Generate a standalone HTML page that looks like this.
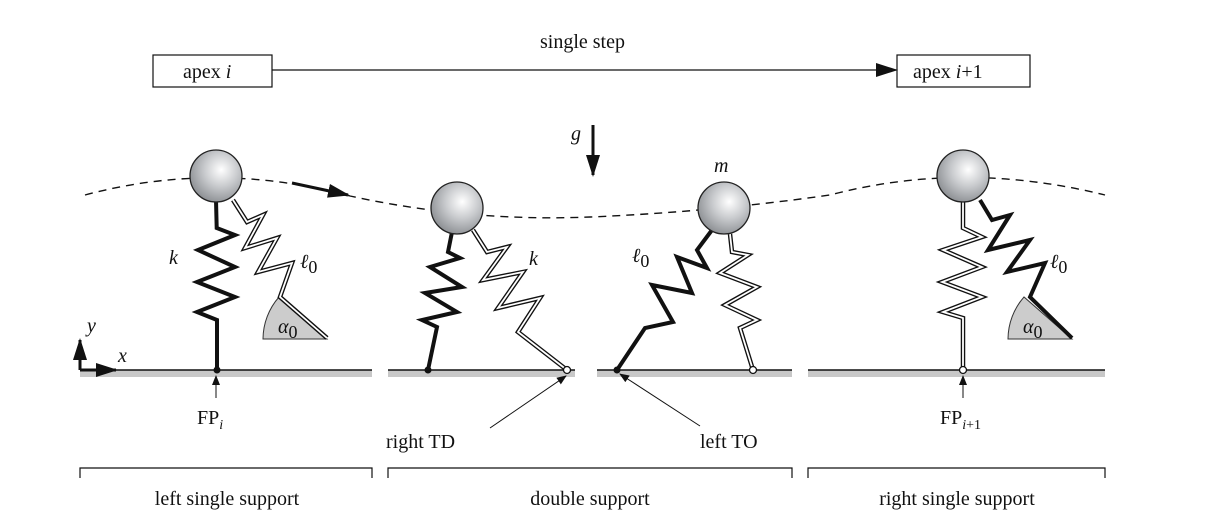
<!DOCTYPE html><html><head><style>body{margin:0;background:#fff}svg{display:block}text{font-family:"Liberation Serif",serif;font-size:20px;fill:#111}</style></head><body>
<svg width="1207" height="529" viewBox="0 0 1207 529">
<defs>
<radialGradient id="b" cx="0.6" cy="0.38" r="0.65"><stop offset="0" stop-color="#fff"/><stop offset="0.5" stop-color="#c8cacd"/><stop offset="1" stop-color="#8d9094"/></radialGradient>
<marker id="ah" markerWidth="10" markerHeight="8" refX="9" refY="4" orient="auto" markerUnits="userSpaceOnUse"><path d="M0,0 L10,4 L0,8 Z" fill="#111"/></marker>
<marker id="ahb" markerWidth="22" markerHeight="14" refX="20" refY="7" orient="auto" markerUnits="userSpaceOnUse"><path d="M0,0 L22,7 L0,14 Z" fill="#111"/></marker>
</defs>
<rect x="153" y="55" width="119" height="32" fill="#fff" stroke="#111" stroke-width="1.2"/>
<text x="183" y="78">apex <tspan font-style="italic">i</tspan></text>
<rect x="897" y="55" width="133" height="32" fill="#fff" stroke="#111" stroke-width="1.2"/>
<text x="913" y="78">apex <tspan font-style="italic">i</tspan>+1</text>
<line x1="272" y1="70" x2="896" y2="70" stroke="#111" stroke-width="1.2" marker-end="url(#ahb)"/>
<text x="540" y="48">single step</text>
<line x1="593" y1="125" x2="593" y2="175" stroke="#111" stroke-width="3" marker-end="url(#ahb)"/>
<text x="571" y="140" font-style="italic">g</text>
<path d="M85,195 Q216,160 350,196 Q470,222 590,217 Q710,212 830,195 Q963,160 1105,195" fill="none" stroke="#111" stroke-width="1.4" stroke-dasharray="8,6"/>
<line x1="292" y1="183" x2="348" y2="195" stroke="#111" stroke-width="3" marker-end="url(#ahb)"/>
<g fill="#c8c8c8"><rect x="80" y="370" width="292" height="7"/><rect x="388" y="370" width="187" height="7"/><rect x="597" y="370" width="195" height="7"/><rect x="808" y="370" width="297" height="7"/></g>
<g stroke="#111" stroke-width="1.5"><line x1="80" y1="370" x2="372" y2="370"/><line x1="388" y1="370" x2="575" y2="370"/><line x1="597" y1="370" x2="792" y2="370"/><line x1="808" y1="370" x2="1105" y2="370"/></g>
<path d="M327,339 L263,339 A64,64 0 0 1 279,297 Z" fill="#ccc" stroke="#333" stroke-width="1"/>
<path d="M1072,339 L1008,339 A64,64 0 0 1 1024,297 Z" fill="#ccc" stroke="#333" stroke-width="1"/>
<text x="278" y="333" font-style="italic" font-size="25">α<tspan font-size="18" font-style="normal" dy="5">0</tspan></text>
<text x="1023" y="333" font-style="italic" font-size="25">α<tspan font-size="18" font-style="normal" dy="5">0</tspan></text>
<g fill="none" stroke="#111" stroke-width="4" stroke-linejoin="miter">
<path d="M216,200 L216.7,228 L235,235 L198,250 L235,267 L197,282 L235,297 L197,312 L217,320 L217,370"/>
<path d="M452,232 L448,252 L460,258 L430,267 L462,287 L425,293 L457,312 L422,320 L437,327 L428,370"/>
<path d="M712,230 L697,250 L707,268 L677,257 L692,293 L652,285 L673,322 L645,328 L617,370"/>
<path d="M980,200 L992,220 L1010,215 L988,250 L1030,240 L1007,272 L1045,263 L1030,297 L1072,338"/>
</g>
<g fill="none" stroke-linejoin="miter">
<g stroke="#111" stroke-width="4.5">
<path id="s1" d="M233,200 L247,222 L263,215 L245,248 L277,238 L258,272 L292,263 L280,297 L327,338"/>
<path id="s2" d="M473,230 L487,252 L507,247 L483,280 L523,272 L498,308 L540,298 L518,332 L567,370"/>
<path id="s3" d="M730,234 L732,252 L748,255 L720,273 L757,287 L725,305 L757,320 L740,328 L753,370"/>
<path id="s4" d="M963,202 L963,228 L982,237 L943,250 L982,267 L942,282 L982,297 L943,312 L963,318 L963,370"/>
</g>
<g stroke="#fff" stroke-width="1.8"><use href="#s1"/><use href="#s2"/><use href="#s3"/><use href="#s4"/></g>
</g>
<circle cx="217" cy="370" r="3.5" fill="#111"/><circle cx="428" cy="370" r="3.5" fill="#111"/><circle cx="617" cy="370" r="3.5" fill="#111"/>
<g fill="#fff" stroke="#111" stroke-width="1.3"><circle cx="567" cy="370" r="3.5"/><circle cx="753" cy="370" r="3.5"/><circle cx="963" cy="370" r="3.5"/></g>
<g fill="url(#b)" stroke="#222" stroke-width="1.3"><circle cx="216" cy="176" r="26"/><circle cx="457" cy="208" r="26"/><circle cx="724" cy="208" r="26"/><circle cx="963" cy="176" r="26"/></g>
<g font-style="italic" font-size="23"><text x="169" y="264">k</text><text x="529" y="265">k</text><text x="714" y="172">m</text></g>
<text x="300" y="268" font-style="italic" font-size="23">ℓ<tspan font-style="normal" font-size="18" dy="5">0</tspan></text>
<text x="632" y="262" font-style="italic" font-size="23">ℓ<tspan font-style="normal" font-size="18" dy="5">0</tspan></text>
<text x="1050" y="268" font-style="italic" font-size="23">ℓ<tspan font-style="normal" font-size="18" dy="5">0</tspan></text>
<g stroke="#111" stroke-width="3" fill="none"><path d="M80,370 L80,340" marker-end="url(#ahb)"/><path d="M80,370 L116,370" marker-end="url(#ahb)"/></g>
<text x="87" y="332" font-style="italic">y</text><text x="118" y="362" font-style="italic">x</text>
<g stroke="#111" stroke-width="1"><line x1="216" y1="398" x2="216" y2="376" marker-end="url(#ah)"/><line x1="963" y1="398" x2="963" y2="376" marker-end="url(#ah)"/><line x1="490" y1="428" x2="566" y2="376" marker-end="url(#ah)"/><line x1="700" y1="426" x2="620" y2="374" marker-end="url(#ah)"/></g>
<text x="197" y="424">FP<tspan font-size="14" font-style="italic" dy="5">i</tspan></text>
<text x="940" y="424">FP<tspan font-size="14" font-style="italic" dy="5">i</tspan><tspan font-size="14">+1</tspan></text>
<text x="386" y="448">right TD</text><text x="700" y="448">left TO</text>
<g fill="none" stroke="#111" stroke-width="1.2"><path d="M80,478 V468 H372 V478"/><path d="M388,478 V468 H792 V478"/><path d="M808,478 V468 H1105 V478"/></g>
<text x="227" y="505" text-anchor="middle">left single support</text>
<text x="590" y="505" text-anchor="middle">double support</text>
<text x="957" y="505" text-anchor="middle">right single support</text>
</svg></body></html>
